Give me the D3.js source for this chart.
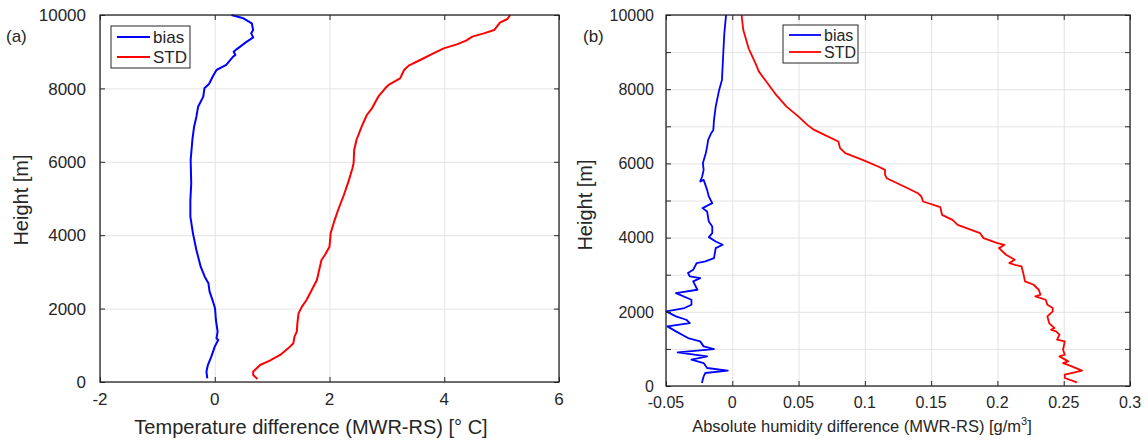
<!DOCTYPE html>
<html>
<head>
<meta charset="utf-8">
<script src="https://cdn.jsdelivr.net/npm/d3@7"></script>
<style>
  body { margin: 0; background: #fff; }
  text { font-family: "Liberation Sans", Arial, sans-serif; fill: #262626; }
</style>
</head>
<body>
<svg width="1148" height="443"></svg>
<script>
// (a) temperature, [difference degC, height m]
var tempBias = [[0.29,10000],[0.5,9910],[0.645,9773],[0.67,9591],[0.635,9500],[0.67,9391],[0.535,9246],
  [0.38,9064],[0.33,9000],[0.36,8910],[0.32,8865],[0.2,8638],[0.03,8501],[-0.03,8338],[-0.1,8120],
  [-0.18,8002],[-0.2,7775],[-0.29,7502],[-0.32,7230],[-0.36,6957],[-0.39,6594],[-0.42,6049],[-0.41,5413],
  [-0.425,4959],[-0.425,4505],[-0.38,4051],[-0.32,3597],[-0.245,3143],[-0.175,2870],[-0.11,2688],
  [-0.09,2461],[-0.03,2189],[0.005,2007],[0.02,1689],[0.05,1371],[0.03,1190],[0.06,1144],[0.0,963],
  [-0.06,690],[-0.12,463],[-0.145,282],[-0.13,100]];
var tempStd = [[5.15,10000],[5.1,9891],[4.97,9791],[4.87,9591],[4.69,9500],[4.49,9410],[4.38,9300],
  [4.22,9200],[3.99,9091],[3.81,8955],[3.58,8774],[3.38,8620],[3.3,8501],[3.23,8274],[3.03,8093],
  [2.97,8002],[2.85,7775],[2.74,7457],[2.65,7275],[2.56,6957],[2.47,6594],[2.43,6322],[2.42,5958],
  [2.4,5822],[2.33,5459],[2.25,5095],[2.15,4687],[2.08,4369],[2.02,4051],[2.0,3688],[1.92,3460],
  [1.86,3324],[1.82,3052],[1.78,2779],[1.69,2507],[1.6,2234],[1.52,2053],[1.46,1871],[1.44,1599],
  [1.43,1371],[1.39,1235],[1.37,1054],[1.28,917],[1.14,736],[0.96,581],[0.79,463],[0.67,282],
  [0.67,191],[0.745,82]];

// (b) absolute humidity, [difference g/m3, height m]
var humBias = [[-0.0047,10000],[-0.006,9506],[-0.0068,8968],[-0.0078,8250],[-0.0099,7980],[-0.0125,7531],
  [-0.0138,7172],[-0.0143,6903],[-0.0159,6813],[-0.0182,6634],[-0.019,6454],[-0.02,6275],[-0.0222,6005],
  [-0.0216,5826],[-0.0227,5646],[-0.0242,5512],[-0.0216,5557],[-0.019,5287],[-0.0177,5108],[-0.0151,4928],
  [-0.0224,4794],[-0.019,4704],[-0.0177,4434],[-0.0151,4300],[-0.0151,4120],[-0.0177,4013],[-0.0125,3896],
  [-0.0073,3806],[-0.0125,3716],[-0.0138,3447],[-0.0203,3357],[-0.0269,3312],[-0.0295,3133],[-0.0334,3043],
  [-0.032,2953],[-0.0242,2908],[-0.0295,2819],[-0.0263,2594],[-0.0425,2504],[-0.0308,2325],[-0.0308,2190],
  [-0.036,2101],[-0.0498,2011],[-0.0425,1876],[-0.0347,1786],[-0.032,1697],[-0.049,1607],[-0.0425,1472],
  [-0.0334,1293],[-0.0242,1203],[-0.0216,1068],[-0.0138,996],[-0.0412,907],[-0.019,799],[-0.0308,709],
  [-0.0216,619],[-0.019,485],[-0.0034,413],[-0.0203,350],[-0.0216,260],[-0.0229,81]];
var humStd = [[0.007,10000],[0.0083,9596],[0.0123,9102],[0.0175,8698],[0.0201,8474],[0.0266,8160],
  [0.0331,7846],[0.0409,7531],[0.05,7262],[0.0566,7038],[0.0618,6903],[0.0696,6768],[0.08,6589],
  [0.0813,6409],[0.0852,6275],[0.0983,6095],[0.11,5916],[0.1152,5826],[0.1152,5691],[0.1165,5601],
  [0.1296,5377],[0.14,5197],[0.1426,5108],[0.1439,4973],[0.1569,4821],[0.1582,4614],[0.1661,4479],
  [0.17,4345],[0.1869,4120],[0.1895,3986],[0.2,3851],[0.2053,3806],[0.2012,3716],[0.2065,3537],
  [0.213,3402],[0.209,3312],[0.213,3268],[0.2182,3223],[0.2195,3043],[0.2208,2819],[0.2273,2729],
  [0.2312,2594],[0.2325,2460],[0.2286,2415],[0.2364,2325],[0.2377,2190],[0.2417,2101],[0.2417,2011],
  [0.2377,1876],[0.239,1697],[0.243,1562],[0.2404,1517],[0.2442,1472],[0.2468,1382],[0.245,1248],
  [0.2508,1203],[0.2495,978],[0.2508,844],[0.2468,799],[0.2534,664],[0.2495,619],[0.2547,548],
  [0.2638,413],[0.2508,305],[0.2508,215],[0.26,99]];

var tempXTicks = [-2, 0, 2, 4, 6];
var tempYTicks = [0, 2000, 4000, 6000, 8000, 10000];
var humXTicks = [-0.05, 0, 0.05, 0.1, 0.15, 0.2, 0.25, 0.3];
var humXLabels = ["-0.05", "0", "0.05", "0.1", "0.15", "0.2", "0.25", "0.3"];
var humYTicks = [0, 1000, 2000, 3000, 4000, 5000, 6000, 7000, 8000, 9000, 10000];
var humYLabels = ["0", "", "2000", "", "4000", "", "6000", "", "8000", "", "10000"];
var seriesNames = ["bias", "STD"];
var seriesColors = ["#0000ff", "#ff0000"];

var svg = d3.select("svg");

function drawPanel(o) {
  var x = d3.scaleLinear().domain(o.xDomain).range([o.left, o.right]);
  var y = d3.scaleLinear().domain([0, 10000]).range([o.bottom, o.top]);
  var g = svg.append("g");
  var h = o.bottom - o.top, w = o.right - o.left;

  // grid
  g.append("g")
    .attr("transform", "translate(0," + o.bottom + ")")
    .call(d3.axisBottom(x).tickValues(o.xTicks).tickSize(-h).tickFormat(""))
    .call(function (s) { s.select(".domain").remove(); s.selectAll("line").attr("stroke", "#e3e3e3"); });
  g.append("g")
    .attr("transform", "translate(" + o.left + ",0)")
    .call(d3.axisLeft(y).tickValues(o.yTicks).tickSize(-w).tickFormat(""))
    .call(function (s) { s.select(".domain").remove(); s.selectAll("line").attr("stroke", "#e3e3e3"); });

  // lines
  var line = d3.line().x(function (d) { return x(d[0]); }).y(function (d) { return y(d[1]); });
  [o.bias, o.std].forEach(function (data, i) {
    g.append("path").datum(data)
      .attr("fill", "none")
      .attr("stroke", seriesColors[i])
      .attr("stroke-width", o.lw)
      .attr("stroke-linejoin", "round")
      .attr("d", line);
  });

  // frame and inward ticks on all four sides
  var tk = 5;
  function styleAxis(s) {
    s.select(".domain").remove();
    s.selectAll("line").attr("stroke", "#262626").attr("stroke-width", 1);
    s.selectAll("text").remove();
  }
  g.append("g").attr("transform", "translate(0," + o.bottom + ")")
    .call(d3.axisBottom(x).tickValues(o.xTicks).tickSize(-tk)).call(styleAxis);
  g.append("g").attr("transform", "translate(0," + o.top + ")")
    .call(d3.axisTop(x).tickValues(o.xTicks).tickSize(-tk)).call(styleAxis);
  g.append("g").attr("transform", "translate(" + o.left + ",0)")
    .call(d3.axisLeft(y).tickValues(o.yTicks).tickSize(-tk)).call(styleAxis);
  g.append("g").attr("transform", "translate(" + o.right + ",0)")
    .call(d3.axisRight(y).tickValues(o.yTicks).tickSize(-tk)).call(styleAxis);
  g.append("rect")
    .attr("x", o.left).attr("y", o.top).attr("width", w).attr("height", h)
    .attr("fill", "none").attr("stroke", "#262626").attr("stroke-width", 1.3);

  // tick labels
  g.selectAll(".xl").data(o.xTicks).enter().append("text")
    .attr("x", function (d) { return x(d); })
    .attr("y", o.bottom + o.xLabDy)
    .attr("text-anchor", "middle")
    .style("font-size", o.fs + "px")
    .text(function (d, i) { return o.xLabels[i]; });
  g.selectAll(".yl").data(o.yTicks).enter().append("text")
    .attr("x", o.left - o.yLabDx)
    .attr("y", function (d) { return y(d); })
    .attr("dy", "0.36em")
    .attr("text-anchor", "end")
    .style("font-size", o.fs + "px")
    .text(function (d, i) { return o.yLabels[i]; });

  // axis titles
  var xt = g.append("text")
    .attr("x", o.xTitleX).attr("y", o.xTitleY)
    .attr("text-anchor", "middle")
    .style("font-size", o.tfs + "px");
  o.xTitle(xt);
  g.append("text")
    .attr("transform", "translate(" + o.yTitleX + "," + o.yTitleY + ") rotate(-90)")
    .attr("text-anchor", "middle")
    .style("font-size", o.yfs + "px")
    .text("Height [m]");
  g.append("text")
    .attr("x", o.tagX).attr("y", 42)
    .style("font-size", "17px")
    .text(o.tag);

  // legend
  var L = o.legend;
  g.append("rect")
    .attr("x", L.x).attr("y", L.y).attr("width", L.w).attr("height", L.h)
    .attr("fill", "#fff").attr("stroke", "#262626").attr("stroke-width", 1);
  seriesNames.forEach(function (name, i) {
    var ry = L.y + L.row0 + i * L.rowStep;
    g.append("line")
      .attr("x1", L.x + 6).attr("x2", L.x + 6 + L.len)
      .attr("y1", ry).attr("y2", ry)
      .attr("stroke", seriesColors[i]).attr("stroke-width", o.lw);
    g.append("text")
      .attr("x", L.x + 9 + L.len).attr("y", ry)
      .attr("dy", "0.36em")
      .style("font-size", L.fs + "px")
      .text(name);
  });
}

drawPanel({
  left: 100, right: 559, top: 15, bottom: 382,
  xDomain: [-2, 6], xTicks: tempXTicks, xLabels: tempXTicks.map(String),
  yTicks: tempYTicks, yLabels: tempYTicks.map(String),
  bias: tempBias, std: tempStd, lw: 2,
  fs: 17, xLabDy: 23, yLabDx: 14,
  tfs: 20, xTitleX: 311, xTitleY: 434,
  xTitle: function (t) { t.text("Temperature difference (MWR-RS) [° C]"); },
  yfs: 20, yTitleX: 28, yTitleY: 200,
  tag: "(a)", tagX: 6,
  legend: { x: 111, y: 26, w: 79, h: 42, row0: 11, rowStep: 20, len: 33, fs: 17 }
});

drawPanel({
  left: 666, right: 1130, top: 15, bottom: 386,
  xDomain: [-0.05, 0.3], xTicks: humXTicks, xLabels: humXLabels,
  yTicks: humYTicks, yLabels: humYLabels,
  bias: humBias, std: humStd, lw: 1.8,
  fs: 16, xLabDy: 22, yLabDx: 12,
  tfs: 16.5, xTitleX: 862, xTitleY: 432,
  xTitle: function (t) {
    t.append("tspan").text("Absolute humidity difference (MWR-RS) [g/m");
    t.append("tspan").attr("dy", -7).style("font-size", "11px").text("3");
    t.append("tspan").attr("dy", 7).text("]");
  },
  yfs: 20, yTitleX: 592, yTitleY: 205,
  tag: "(b)", tagX: 583,
  legend: { x: 783, y: 25, w: 75, h: 38, row0: 10, rowStep: 17, len: 32, fs: 16 }
});
</script>
</body>
</html>
